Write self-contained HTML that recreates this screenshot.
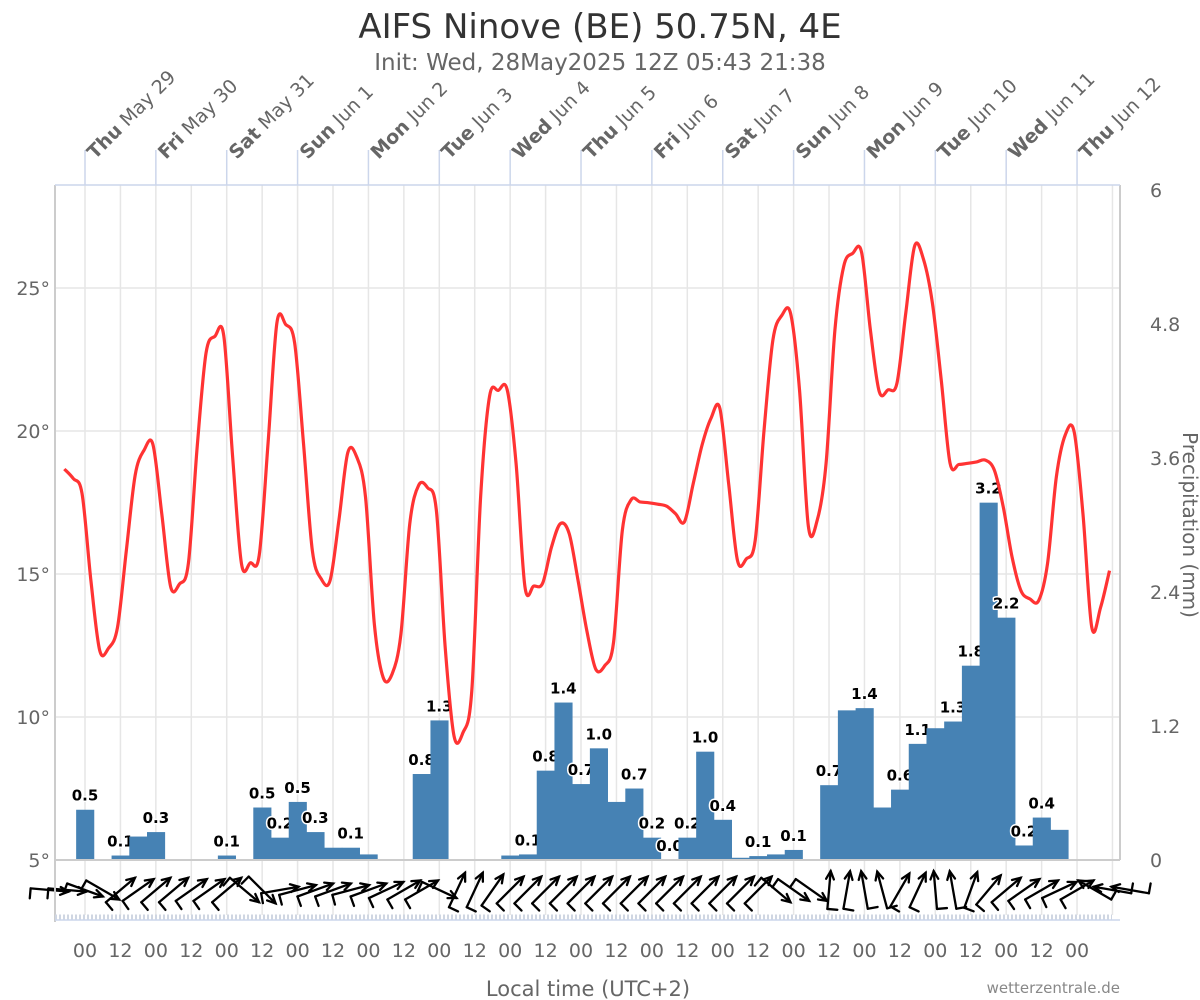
<!DOCTYPE html>
<html>
<head>
<meta charset="utf-8">
<style>
html,body{margin:0;padding:0;background:#fff;}
svg{display:block;font-family:"DejaVu Sans","Liberation Sans",sans-serif;}
</style>
</head>
<body>
<svg id="chart" width="1200" height="1000" viewBox="0 0 1200 1000">
  <text x="600" y="38" text-anchor="middle" font-size="34" fill="#333">AIFS Ninove (BE) 50.75N, 4E</text>
  <text x="600" y="70" text-anchor="middle" font-size="23" fill="#666">Init: Wed, 28May2025 12Z 05:43 21:38</text>
  <g id="grid"></g>
  <g id="bars"></g>
  <g id="temp"></g>
  <g id="wind"></g>
  <g id="axes"></g>
  <text x="588" y="996" text-anchor="middle" font-size="21" fill="#666">Local time (UTC+2)</text>
  <text x="1120" y="993" text-anchor="end" font-size="15" fill="#888">wetterzentrale.de</text>
  <text transform="translate(1183,525) rotate(90)" text-anchor="middle" font-size="20" fill="#666">Precipitation (mm)</text>
</svg>
<script>
// ---- data ----
const dayNames = ["Thu","Fri","Sat","Sun","Mon","Tue","Wed","Thu","Fri","Sat","Sun","Mon","Tue","Wed","Thu"];
const dayDates = ["May 29","May 30","May 31","Jun 1","Jun 2","Jun 3","Jun 4","Jun 5","Jun 6","Jun 7","Jun 8","Jun 9","Jun 10","Jun 11","Jun 12"];
const tempTicks = [5,10,15,20,25];
const tempTickLabels = ["5°","10°","15°","20°","25°"];
const precipTicks = [0,1.2,2.4,3.6,4.8,6];
const precipTickLabels = ["0","1.2","2.4","3.6","4.8","6"];
const hourLabels = ["00","12"];
// temperature, 3-hourly starting May 28 17:00 local (hours offset from May 29 00:00)
const tempStartHour = -7;
const tempStepHours = 3;
const temps = [18.67,18.34,17.81,14.77,12.32,12.41,13.13,15.82,18.46,19.33,19.53,17.11,14.56,14.65,15.36,19.45,22.73,23.31,23.33,19.1,
15.36,15.39,15.65,19.57,23.78,23.72,23.08,19.57,15.82,14.83,14.77,16.88,19.24,19.1,17.7,13.25,11.38,11.5,12.9,16.76,
18.1,18.02,17.23,12.43,9.33,9.45,10.91,17.7,21.2,21.42,21.44,18.87,14.56,14.58,14.68,15.94,16.76,16.41,14.77,13.0,
11.67,11.79,12.6,16.53,17.6,17.52,17.49,17.44,17.37,17.11,16.82,18.16,19.51,20.44,20.8,18.16,15.47,15.53,16.18,20.04,
23.19,24.04,24.1,21.44,16.67,16.88,18.87,23.54,25.77,26.21,26.26,23.54,21.38,21.44,21.67,24.13,26.47,26.0,24.48,21.79,
18.87,18.83,18.87,18.92,18.98,18.63,17.35,15.59,14.42,14.13,14.07,15.36,18.4,19.86,19.98,17.11,13.13,13.84,15.12];
// precipitation, 6-hourly, centred at May 29 00:00 + 6h*k
const precipStepHours = 6;
const precip = [0.45,0,0.04,0.21,0.25,0,0,0,0.04,0,0.47,0.2,0.52,0.25,0.11,0.11,0.05,0,0,0.77,
1.25,0,0,0,0.04,0.05,0.8,1.41,0.68,1.0,0.52,0.64,0.2,0,0.2,0.97,0.36,0.02,0.035,0.05,
0.09,0,0.67,1.34,1.36,0.47,0.63,1.04,1.18,1.24,1.74,3.2,2.17,0.13,0.38,0.27];
const precipLabels = ["0.5","","0.1","","0.3","","","","0.1","","0.5","0.2","0.5","0.3","","0.1","","","","0.8",
"1.3","","","","","0.1","0.8","1.4","0.7","1.0","","0.7","0.2","0.0","0.2","1.0","0.4","","0.1","",
"0.1","","0.7","","1.4","","0.6","1.1","","1.3","1.8","3.2","2.2","0.2","0.4",""];
// wind arrow direction (screen degrees, 0 = pointing right, 90 = up), 6-hourly from k=-2
const windStartIndex = -2;
const windDir = [-5,-5,-20,-30,40,35,40,40,35,35,40,-40,-45,10,15,20,20,15,20,25,30,30,-25,65,65,55,
45,45,45,45,45,45,45,45,45,45,45,45,45,45,45,-40,-35,-35,85,80,100,105,60,65,95,100,70,50,40,35,30,25,30,150,170,170];

// ---- scales ----
const X0 = 85, PX_PER_HOUR = 70.86/24;
const xHour = h => X0 + h*PX_PER_HOUR;
const yTemp = t => 860 - (t-5)*28.6;
const yPrec = v => 860 - v*111.67;
const PL = 55, PR = 1120, PT = 185, PB = 860;
const NS = "http://www.w3.org/2000/svg";
function mk(tag, attrs, parent){const e=document.createElementNS(NS,tag);for(const k in attrs)e.setAttribute(k,attrs[k]);parent.appendChild(e);return e;}

const grid = document.getElementById('grid');
const axes = document.getElementById('axes');
tempTicks.forEach((t,i)=>{
  const l = mk('line',{x1:PL,x2:PR,y1:yTemp(t),y2:yTemp(t),stroke:'#e6e6e6','stroke-width':1.5},grid);
  
  
  const tx = mk('text',{x:50,y:yTemp(t)+7,'text-anchor':'end','font-size':19,fill:'#666'},axes);
  tx.textContent = tempTickLabels[i];
  
  
});
precipTicks.forEach((v,i)=>{
  const tx = mk('text',{x:1150,y:yPrec(v)+7,'font-size':19,fill:'#666'},axes);
  tx.textContent = precipTickLabels[i];
  
  
});
for(let i=0;i<=29;i++){
  const x = xHour(i*12);
  if (x>PR) break;
  const l = mk('line',{x1:x,x2:x,y1:PT,y2:915,stroke:'#e6e6e6','stroke-width':1.5},grid);
  
  
  if (i<=28){
    const tx = mk('text',{x:x,y:957,'text-anchor':'middle','font-size':19,fill:'#666'},axes);
    tx.textContent = hourLabels[i%2];
    
    
  }
}
const frame = [[PL,PT,PL,922],[PR,PT,PR,PB],[PL,PB,PR,PB]];
frame.forEach(f=>{
  const l = mk('line',{x1:f[0],y1:f[1],x2:f[2],y2:f[3],stroke:'#ccc','stroke-width':2},axes);
  
  
});
const topAx = mk('line',{x1:PL,x2:PR,y1:PT,y2:PT,stroke:'#ccd6eb','stroke-width':1.5},axes);


const strip = mk('line',{x1:PL,x2:1112,y1:917,y2:917,stroke:'#cfd6e2','stroke-width':5,'stroke-dasharray':'2,2'},axes);


const strip2 = mk('line',{x1:PL,x2:1120,y1:920,y2:920,stroke:'#ccd6eb','stroke-width':1.5},axes);


dayNames.forEach((d,i)=>{
  const x = xHour(i*24);
  const tk = mk('line',{x1:x,x2:x,y1:150,y2:PT,stroke:'#ccd6eb','stroke-width':1.5},axes);
  
  
  const tx = mk('text',{transform:`translate(${x+10},160) rotate(-45)`,'font-size':19,fill:'#666'},axes);
  
  
  const b = mk('tspan',{'font-weight':'bold'},tx); b.textContent = d;
  const n = mk('tspan',{},tx); n.textContent = ' '+dayDates[i];
});

const bars = document.getElementById('bars');
const bw = PX_PER_HOUR*precipStepHours;
precip.forEach((v,k)=>{
  const xc = xHour(k*precipStepHours);
  if (v>0){
    const r = mk('rect',{x:xc-bw/2,y:yPrec(v),width:bw+0.4,height:PB-yPrec(v),fill:'#4682b4'},bars);
    
    
  }
  if (precipLabels[k]){
    const t = mk('text',{x:xc,y:yPrec(v)-9,'text-anchor':'middle','font-size':15,'font-weight':'bold',fill:'#000',stroke:'#fff','stroke-width':3,'paint-order':'stroke','stroke-linejoin':'round'},bars);
    t.textContent = precipLabels[k];
    
    
  }
});

const pts = temps.map((t,i)=>[xHour(tempStartHour+i*tempStepHours), yTemp(t)]);
let d = `M${pts[0][0]},${pts[0][1]}`;
for(let i=0;i<pts.length-1;i++){
  const p0=pts[Math.max(0,i-1)],p1=pts[i],p2=pts[i+1],p3=pts[Math.min(pts.length-1,i+2)];
  const s=6;
  const c1=[p1[0]+(p2[0]-p0[0])/s,p1[1]+(p2[1]-p0[1])/s];
  const c2=[p2[0]-(p3[0]-p1[0])/s,p2[1]-(p3[1]-p1[1])/s];
  d+=` C${c1[0]},${c1[1]} ${c2[0]},${c2[1]} ${p2[0]},${p2[1]}`;
}
const tl = mk('path',{d:d,fill:'none',stroke:'#ff3333','stroke-width':3.2,'stroke-linejoin':'round'},document.getElementById('temp'));



const wind = document.getElementById('wind');
windDir.forEach((a,i)=>{
  const k = windStartIndex+i;
  const cx = xHour(k*precipStepHours), cy = 890;
  const r = a*Math.PI/180, dx=Math.cos(r), dy=-Math.sin(r), L=38;
  const tx=cx-dx*L/2, ty=cy-dy*L/2, hx=cx+dx*L/2, hy=cy+dy*L/2;
  const g = mk('g',{stroke:'#000','stroke-width':2.3,fill:'none','stroke-linecap':'round'},wind);
  
  
  mk('line',{x1:tx,y1:ty,x2:hx,y2:hy},g);
  const hl=9, ang=0.45;
  const bx=-dx, by=-dy;
  const r1=[bx*Math.cos(ang)-by*Math.sin(ang), bx*Math.sin(ang)+by*Math.cos(ang)];
  const r2=[bx*Math.cos(-ang)-by*Math.sin(-ang), bx*Math.sin(-ang)+by*Math.cos(-ang)];
  mk('path',{d:`M${hx+r1[0]*hl},${hy+r1[1]*hl} L${hx},${hy} L${hx+r2[0]*hl},${hy+r2[1]*hl}`},g);
  const px=-dy, py=dx;
  mk('line',{x1:tx,y1:ty,x2:tx+px*10,y2:ty+py*10},g);
});
</script>
</body>
</html>
